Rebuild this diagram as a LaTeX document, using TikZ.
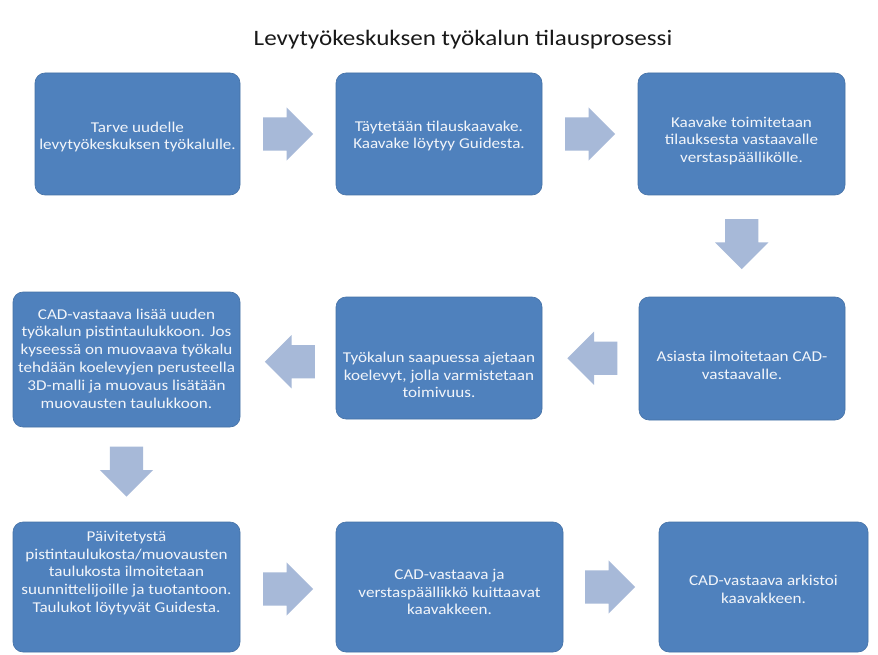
\documentclass[tikz,border=0pt]{standalone}
\usepackage{fontspec}
\setmainfont[FakeStretch=1.14]{Carlito}
\usetikzlibrary{shapes.arrows,calc}
\definecolor{boxblue}{RGB}{79,129,189}
\definecolor{arrowblue}{RGB}{167,185,216}
\definecolor{boxtxt}{RGB}{242,245,250}
\definecolor{titlegray}{RGB}{25,25,25}
\begin{document}
\begin{tikzpicture}[x=1pt,y=-1pt,
  procbox/.style={draw=boxblue!88!black, line width=0.6pt, fill=boxblue, rounded corners=10pt, inner sep=0pt},
  proctext/.style={text=boxtxt, align=center, font=\fontsize{15}{17.8}\selectfont, inner sep=0pt},
  blockarrow/.style={single arrow, fill=arrowblue, draw=none, minimum height=50pt, anchor=tail,
    single arrow head extend=10pt, single arrow tip angle=90, inner xsep=0pt, inner ysep=16.5pt}
]
\fill[white] (0,0) rectangle (878,655);
\useasboundingbox (0,0) rectangle (878,655);

\node[text=titlegray, font=\fontsize{22}{26}\selectfont, inner sep=0pt] (title) at (463,40) {Levytyökeskuksen työkalun tilausprosessi};

% boxes
\node[procbox, minimum width=205pt, minimum height=122pt] (b1) at (137.5,134) {};
\node[procbox, minimum width=206pt, minimum height=122pt] (b2) at (439,134) {};
\node[procbox, minimum width=207pt, minimum height=122pt] (b3) at (741.5,134) {};
\node[procbox, minimum width=206pt, minimum height=123pt] (b4) at (742,358.5) {};
\node[procbox, minimum width=206pt, minimum height=122pt] (b5) at (439,358) {};
\node[procbox, minimum width=227pt, minimum height=135pt] (b6) at (126.5,359.5) {};
\node[procbox, minimum width=227pt, minimum height=130pt] (b7) at (126.5,587) {};
\node[procbox, minimum width=227pt, minimum height=130pt] (b8) at (449.5,587) {};
\node[procbox, minimum width=209pt, minimum height=130pt] (b9) at (763.5,587) {};

% texts
\node[proctext] (t1) at ($(b1.center)+(0,3)$) {Tarve uudelle\\levytyökeskuksen työkalulle.};
\node[proctext] (t2) at ($(b2.center)+(0,2)$) {Täytetään tilauskaavake.\\Kaavake löytyy Guidesta.};
\node[proctext] (t3) at ($(b3.center)+(0,7)$) {Kaavake toimitetaan\\tilauksesta vastaavalle\\verstaspäällikölle.};
\node[proctext] (t4) at ($(b4.center)+(0,7)$) {Asiasta ilmoitetaan CAD-\\vastaavalle.};
\node[proctext] (t5) at ($(b5.center)+(0,17)$) {Työkalun saapuessa ajetaan\\koelevyt, jolla varmistetaan\\toimivuus.};
\node[proctext] (t6) at ($(b6.center)+(0,-1)$) {CAD-vastaava lisää uuden\\työkalun pistintaulukkoon. Jos\\kyseessä on muovaava työkalu\\tehdään koelevyjen perusteella\\3D-malli ja muovaus lisätään\\muovausten taulukkoon.};
\node[proctext] (t7) at ($(b7.center)+(0,-14)$) {Päivitetystä\\pistintaulukosta/muovausten\\taulukosta ilmoitetaan\\suunnittelijoille ja tuotantoon.\\Taulukot löytyvät Guidesta.};
\node[proctext] (t8) at ($(b8.center)+(0,5)$) {CAD-vastaava ja\\verstaspäällikkö kuittaavat\\kaavakkeen.};
\node[proctext] (t9) at ($(b9.center)+(0,2)$) {CAD-vastaava arkistoi\\kaavakkeen.};

% block arrows (tail placed half a length before the midpoint of the gap)
\node[blockarrow] (a1) at ($(b1.east)!0.5!(b2.west)+(-25,0)$) {};
\node[blockarrow] (a2) at ($(b2.east)!0.5!(b3.west)+(-25,0)$) {};
\node[blockarrow, rotate=-90] (a3) at ($(b3.south)!0.5!(b4.north)+(0,-27)$) {};
\node[blockarrow, rotate=180] (a4) at ($(b4.west)!0.5!(b5.east)+(27,0)$) {};
\node[blockarrow, rotate=180] (a5) at ($(b5.west)!0.5!(b6.east)+(27,3)$) {};
\node[blockarrow, rotate=-90] (a6) at ($(b6.south)!0.5!(b7.north)+(0,-28)$) {};
\node[blockarrow] (a7) at ($(b7.east)!0.5!(b8.west)+(-25,2)$) {};
\node[blockarrow] (a8) at ($(b8.east)!0.5!(b9.west)+(-26,0)$) {};
\end{tikzpicture}
\end{document}
